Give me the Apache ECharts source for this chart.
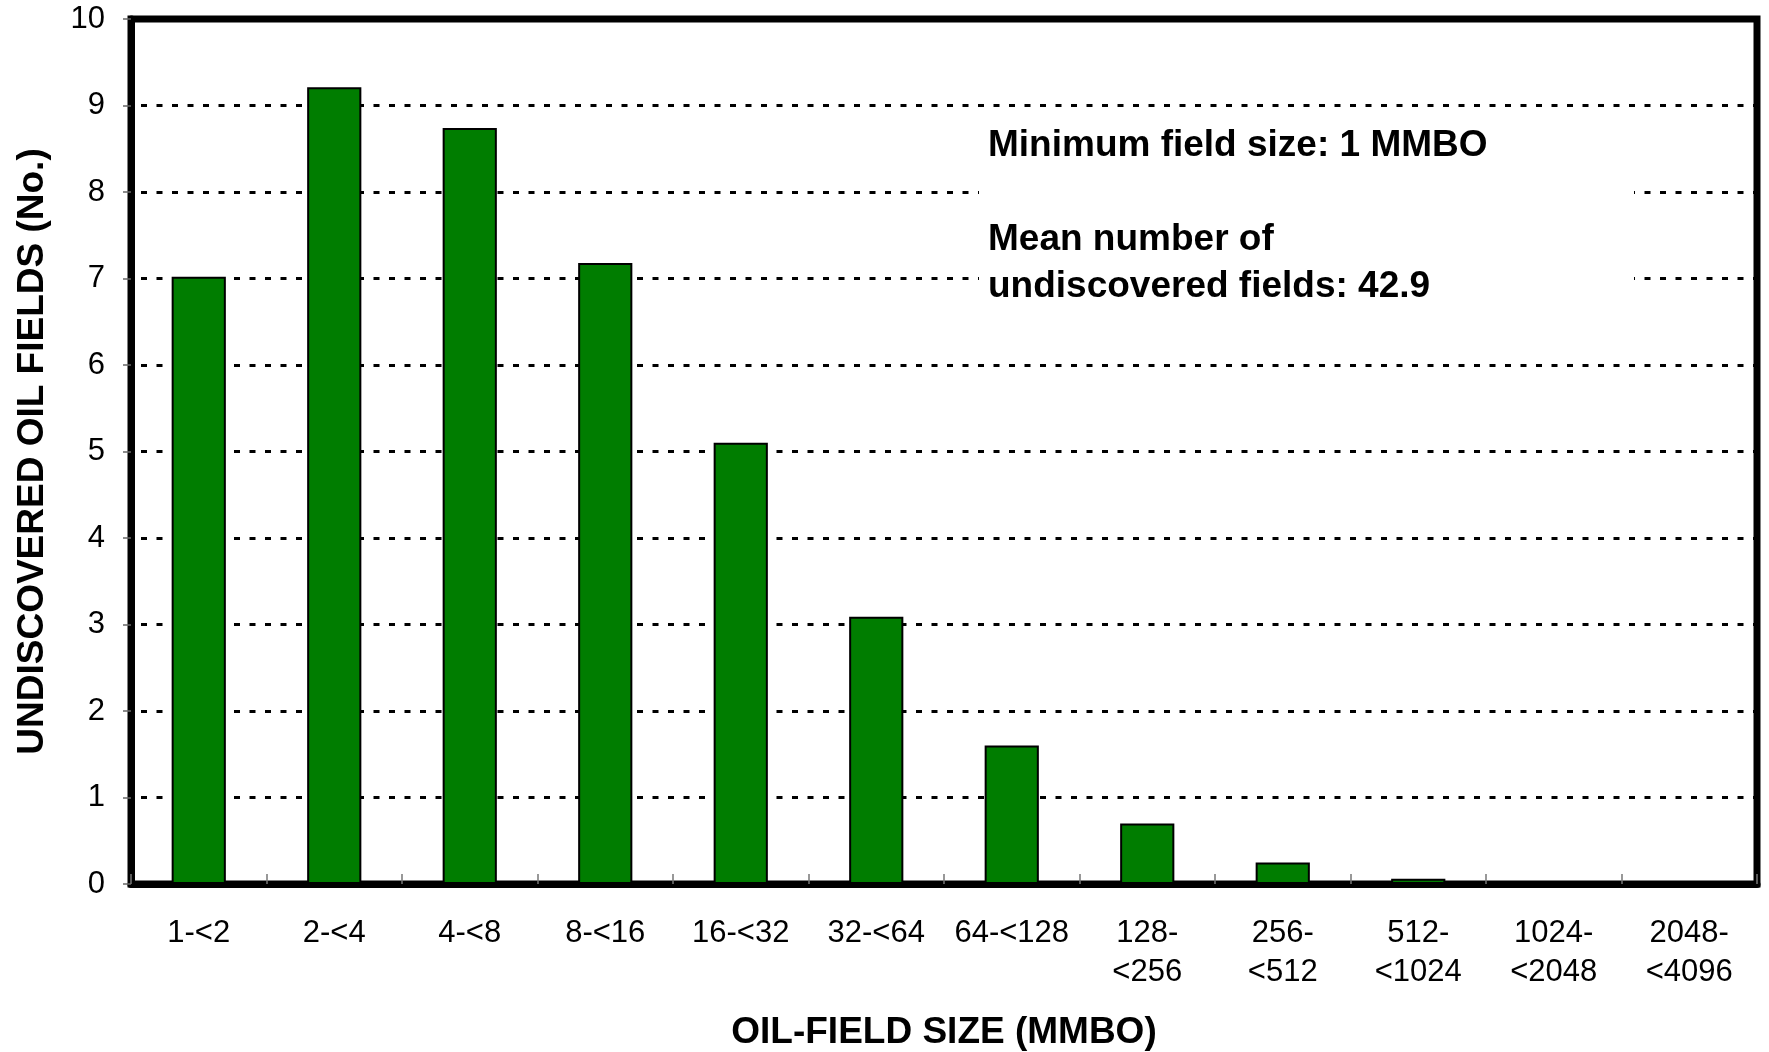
<!DOCTYPE html>
<html>
<head>
<meta charset="utf-8">
<script src="https://cdn.jsdelivr.net/npm/echarts@6/dist/echarts.min.js"></script>
<style>
  html, body { margin: 0; padding: 0; background: #fff; }
  #chart { width: 1769px; height: 1052px; }
</style>
</head>
<body>
<div id="chart"></div>
<script>
// Field-size classes (MMBO) and expected number of undiscovered oil fields per class
const sizeClasses = ['1-<2', '2-<4', '4-<8', '8-<16', '16-<32', '32-<64', '64-<128',
  '128-\n<256', '256-\n<512', '512-\n<1024', '1024-\n<2048', '2048-\n<4096'];
const fieldCounts = [7.02, 9.21, 8.74, 7.18, 5.1, 3.09, 1.6, 0.7, 0.25, 0.06, 0, 0];
const yTicks = { min: 0, max: 10, step: 1 };
const notes = ['Minimum field size: 1 MMBO', 'Mean number of', 'undiscovered fields: 42.9'];

const FONT = '"Liberation Sans", Arial, Helvetica, sans-serif';
const chart = echarts.init(document.getElementById('chart'), null, { renderer: 'canvas' });

chart.setOption({
  backgroundColor: '#ffffff',
  animation: false,
  grid: {
    left: 131, right: 12, top: 19, bottom: 168,
    outerBoundsMode: 'none',
    containLabel: false,
    show: true, borderColor: '#000', borderWidth: 7, backgroundColor: 'transparent'
  },
  xAxis: {
    type: 'category',
    data: sizeClasses,
    name: 'OIL-FIELD SIZE (MMBO)',
    nameLocation: 'middle',
    nameGap: 130,
    nameTextStyle: { fontFamily: FONT, fontWeight: 'bold', fontSize: 37, color: '#000' },
    axisLine: { lineStyle: { color: '#000', width: 7 } },
    axisTick: { show: true, inside: true, length: 10, lineStyle: { color: '#777', width: 1.5 } },
    axisLabel: { fontFamily: FONT, fontSize: 31, color: '#000', margin: 30, lineHeight: 39, interval: 0 },
    splitLine: { show: false }
  },
  yAxis: {
    type: 'value',
    min: yTicks.min, max: yTicks.max, interval: yTicks.step,
    name: 'UNDISCOVERED OIL FIELDS (No.)',
    nameLocation: 'middle',
    nameRotate: 90,
    nameGap: 80,
    nameTextStyle: { fontFamily: FONT, fontWeight: 'bold', fontSize: 37, color: '#000' },
    axisLine: { show: true, lineStyle: { color: '#000', width: 7 } },
    axisTick: { show: true, inside: false, length: 8, lineStyle: { color: '#666', width: 1.5 } },
    axisLabel: { fontFamily: FONT, fontSize: 31, color: '#000', margin: 26 },
    splitLine: { show: true, lineStyle: { color: '#000', width: 3, type: [6, 9.5], dashOffset: -10 } }
  },
  series: [{
    type: 'bar',
    data: fieldCounts,
    barCategoryGap: '60%',
    itemStyle: { color: '#007d00', borderColor: '#000', borderWidth: 2 }
  }],
  graphic: [
    { type: 'rect', shape: { x: 979, y: 116, width: 655, height: 200 },
      style: { fill: '#fff' }, z: 50 },
    { type: 'text', x: 988, y: 146, z: 51,
      style: { text: notes[0], font: 'bold 37px ' + FONT, fill: '#000', verticalAlign: 'middle' } },
    { type: 'text', x: 988, y: 240, z: 51,
      style: { text: notes[1], font: 'bold 37px ' + FONT, fill: '#000', verticalAlign: 'middle' } },
    { type: 'text', x: 988, y: 287, z: 51,
      style: { text: notes[2], font: 'bold 37px ' + FONT, fill: '#000', verticalAlign: 'middle' } }
  ]
});
</script>
</body>
</html>
